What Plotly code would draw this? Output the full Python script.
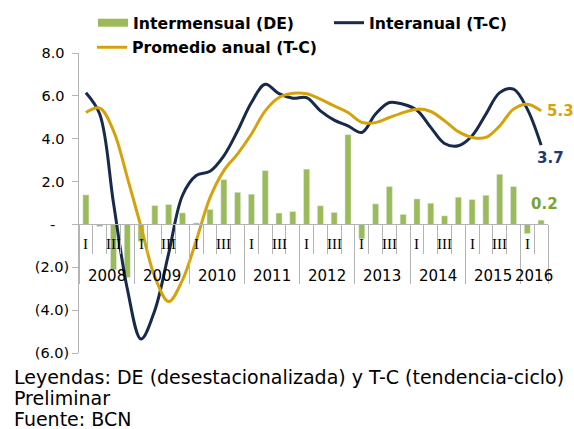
import plotly.graph_objects as go

years = ["2008", "2009", "2010", "2011", "2012", "2013", "2014", "2015", "2016"]
quarters_per_year = [4, 4, 4, 4, 4, 4, 4, 4, 2]
quarter_names = ["I", "II", "III", "IV"]
shown_quarters = ["I", "III"]

intermensual = [1.38, -0.10, -2.12, -2.47, -0.80, 0.88, 0.93, 0.54,
                0.07, 0.70, 2.09, 1.50, 1.41, 2.51, 0.53, 0.60,
                2.58, 0.87, 0.56, 4.19, -0.67, 0.96, 1.77, 0.47,
                1.19, 0.99, 0.40, 1.27, 1.16, 1.36, 2.34, 1.77,
                -0.43, 0.20]
interanual = [6.15, 5.15, 1.00, -3.00, -5.35, -4.00, -1.35, 1.35,
              2.28, 2.48, 3.20, 4.37, 5.69, 6.54, 6.10, 5.89,
              5.92, 5.30, 4.87, 4.60, 4.29, 5.15, 5.69, 5.61,
              5.33, 4.53, 3.78, 3.67, 4.14, 5.15, 6.15, 6.31,
              5.38, 3.70]
promedio = [5.22, 5.43, 4.37, 2.20, -0.12, -2.45, -3.60, -2.60,
            -0.75, 1.25, 2.51, 3.29, 4.22, 5.30, 5.92, 6.12,
            6.10, 5.85, 5.53, 5.22, 4.76, 4.75, 4.99, 5.22,
            5.38, 5.27, 4.84, 4.33, 4.06, 4.06, 4.60, 5.38,
            5.61, 5.30]
y_ticks = [8, 6, 4, 2, 0, -2, -4, -6]
y_ticktext = ["8.0\u00a0", "6.0\u00a0", "4.0\u00a0", "2.0\u00a0", "-\u00a0\u00a0\u00a0",
              "(2.0)", "(4.0)", "(6.0)"]
notes = ["Leyendas: DE (desestacionalizada) y T-C (tendencia-ciclo)",
         "Preliminar", "Fuente: BCN"]

GREEN = "#9BBB59"
GREEN_TXT = "#76A33A"
NAVY = "#172A4A"
NAVY_TXT = "#1F3A73"
GOLD = "#D6A20C"
GRAY = "#B4B4B4"

cats = []
for yr, nq in zip(years, quarters_per_year):
    for q in range(nq):
        cats.append((yr, quarter_names[q]))
xs = list(range(len(cats)))
n = len(xs)

fig = go.Figure()
fig.add_trace(go.Bar(x=xs, y=intermensual, marker_color=GREEN, width=0.44,
                     showlegend=False, name="Intermensual (DE)"))
fig.add_trace(go.Scatter(x=[None], y=[None], mode="lines", name="Intermensual (DE)",
                         line=dict(color=GREEN, width=8), legend="legend"))
fig.add_trace(go.Scatter(x=xs, y=interanual, mode="lines", name="Interanual (T-C)",
                         line=dict(color=NAVY, width=3, shape="spline", smoothing=1),
                         legend="legend2"))
fig.add_trace(go.Scatter(x=xs, y=promedio, mode="lines", name="Promedio anual (T-C)",
                         line=dict(color=GOLD, width=3, shape="spline", smoothing=1),
                         legend="legend3"))

all_bounds = [i - 0.5 for i in range(n + 1)]
year_bounds = [-0.5]
acc = -0.5
for q in quarters_per_year:
    acc += q
    year_bounds.append(acc)

ymin, ymax = -6, 8
L, R, T, B = 79, 26, 53, 76
W, H = 574, 429
pw, ph = W - L - R, H - T - B

def px_x(p):
    return (p - L) / pw

def px_y(p):
    return (H - B - p) / ph

legend_font = dict(family="DejaVu Sans", size=15.7, color="#000000", weight="bold")
common_leg = dict(orientation="h", xanchor="left", yanchor="middle",
                  font=legend_font, bgcolor="rgba(0,0,0,0)")

fig.update_layout(
    width=W, height=H,
    margin=dict(l=L, r=R, t=T, b=B, autoexpand=False),
    plot_bgcolor="white", paper_bgcolor="white",
    font=dict(family="DejaVu Sans", size=14, color="#000000"),
    xaxis=dict(range=[-0.5, n - 0.5], anchor="free", position=(0 - ymin) / (ymax - ymin),
               showline=True, linecolor=GRAY, linewidth=1,
               tickmode="array", tickvals=year_bounds, ticks="outside", ticklen=59,
               tickcolor=GRAY, tickwidth=1, showticklabels=False, showgrid=False,
               zeroline=False,
               minor=dict(tickmode="array", tickvals=all_bounds, ticks="outside",
                          ticklen=29, tickcolor=GRAY, tickwidth=1, showgrid=False)),
    yaxis=dict(range=[ymin, ymax], tickmode="array", tickvals=y_ticks, ticktext=y_ticktext,
               showline=True, linecolor=GRAY, linewidth=1, ticks="outside", ticklen=6,
               tickcolor=GRAY, showgrid=False, zeroline=False,
               tickfont=dict(family="DejaVu Sans", size=14.5, color="#000000")),
    legend=dict(x=px_x(93), y=px_y(23), **common_leg),
    legend2=dict(x=px_x(329), y=px_y(23), **common_leg),
    legend3=dict(x=px_x(92), y=px_y(47.5), **common_leg),
)

ann = []
for i, (yr, q) in enumerate(cats):
    if q in shown_quarters:
        ann.append(dict(x=i, y=0, xref="x", yref="y", text=q, showarrow=False,
                        yshift=-20, font=dict(family="Liberation Serif", size=15, color="#000")))
start = 0
for yr, q in zip(years, quarters_per_year):
    ann.append(dict(x=start + (q - 1) / 2, y=0, xref="x", yref="y", text=yr, showarrow=False,
                    yshift=-52, font=dict(family="DejaVu Sans", size=15, color="#000")))
    start += q
last = n - 1
ann.append(dict(x=last, y=promedio[-1], xref="x", yref="y", text=f"<b>{promedio[-1]:.1f}</b>",
                showarrow=False, xanchor="left", xshift=4, yshift=0,
                font=dict(family="DejaVu Sans", size=15, color=GOLD)))
ann.append(dict(x=last, y=interanual[-1], xref="x", yref="y", text=f"<b>{interanual[-1]:.1f}</b>",
                showarrow=False, xanchor="center", xshift=9, yshift=-13,
                font=dict(family="DejaVu Sans", size=15, color=NAVY_TXT)))
ann.append(dict(x=last, y=intermensual[-1], xref="x", yref="y", text=f"<b>{intermensual[-1]:.1f}</b>",
                showarrow=False, xanchor="center", xshift=3, yshift=16,
                font=dict(family="DejaVu Sans", size=15, color=GREEN_TXT)))
for k, t in enumerate(notes):
    ann.append(dict(x=px_x(12), y=px_y(376.5 + 21 * k), xref="paper", yref="paper",
                    text=t, showarrow=False, xanchor="left", yanchor="middle",
                    font=dict(family="DejaVu Sans", size=19, color="#000")))
fig.update_layout(annotations=ann)

fig.write_html("out.html", config={"displayModeBar": False},
               post_script="document.body.style.margin='0';document.body.style.padding='0';")
